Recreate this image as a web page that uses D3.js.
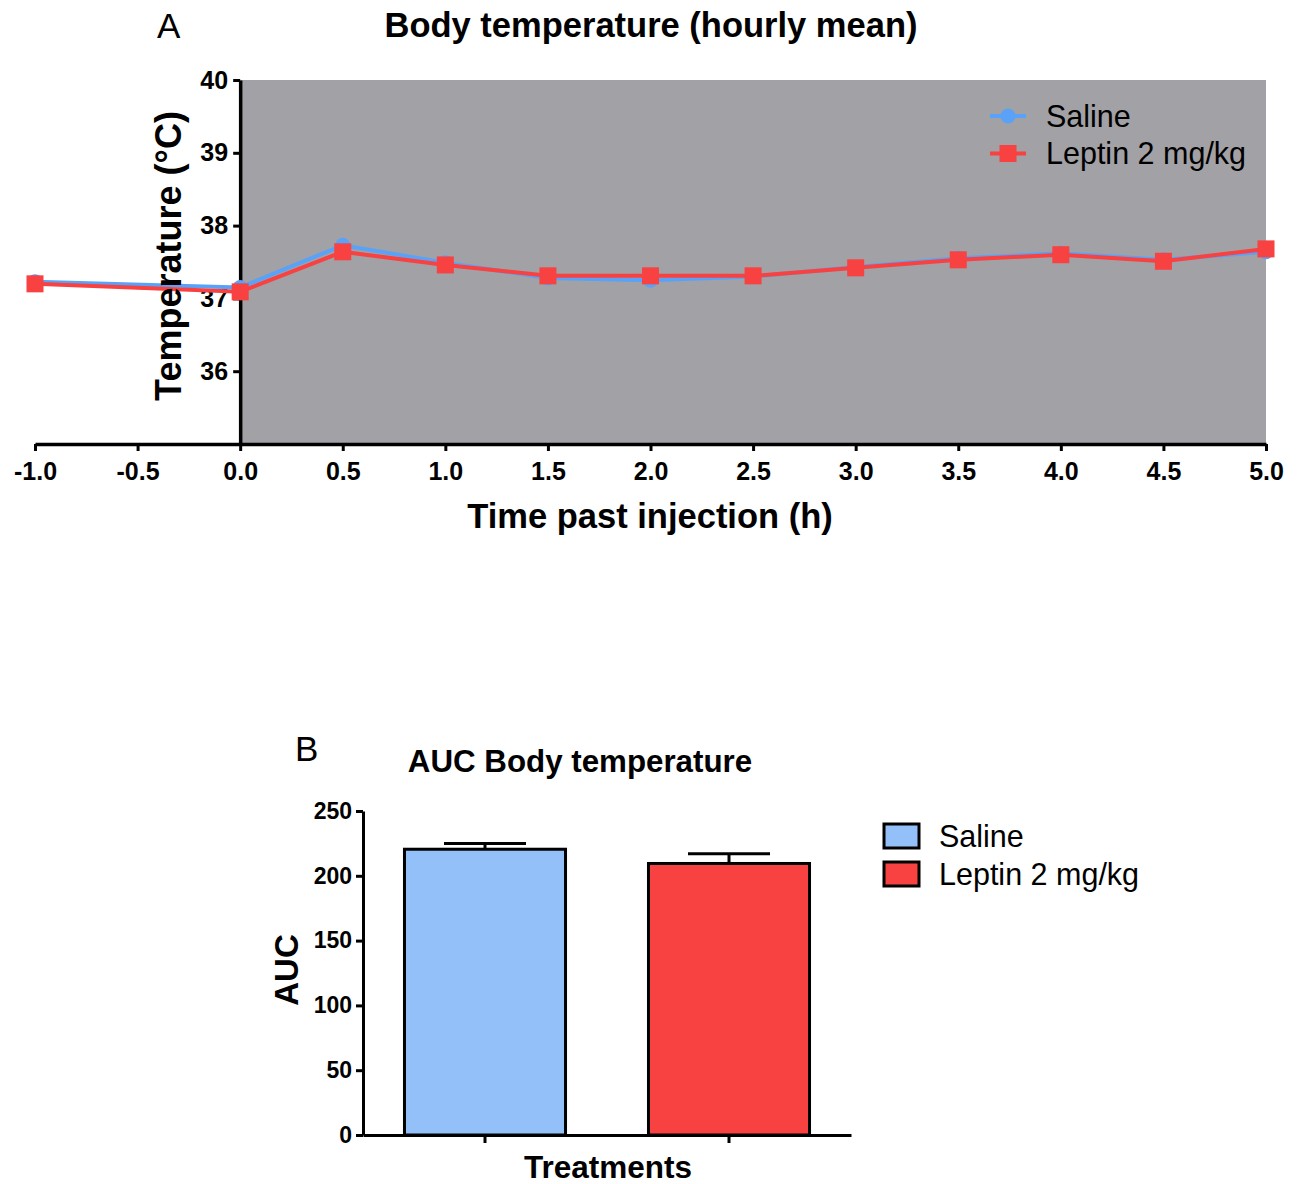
<!DOCTYPE html>
<html>
<head>
<meta charset="utf-8">
<script src="https://cdn.jsdelivr.net/npm/d3@7"></script>
<style>
  html, body { margin: 0; padding: 0; background: #ffffff; }
  svg { display: block; font-family: "Liberation Sans", Arial, sans-serif; }
</style>
</head>
<body>
<svg id="fig" width="1301" height="1184"></svg>
<script>
// ---- Panel A: hourly mean body temperature ----
const hours = [-1.0, 0.0, 0.5, 1.0, 1.5, 2.0, 2.5, 3.0, 3.5, 4.0, 4.5, 5.0];
const salineTemp = [37.23, 37.15, 37.73, 37.49, 37.28, 37.25, 37.30, 37.43, 37.55, 37.62, 37.53, 37.64];
const leptinTemp = [37.20, 37.09, 37.64, 37.46, 37.31, 37.31, 37.31, 37.42, 37.53, 37.60, 37.51, 37.68];
const xTicksA = [-1.0, -0.5, 0.0, 0.5, 1.0, 1.5, 2.0, 2.5, 3.0, 3.5, 4.0, 4.5, 5.0];
const yTicksA = [36, 37, 38, 39, 40];
const seriesNames = ["Saline", "Leptin 2 mg/kg"];

// ---- Panel B: area under the curve ----
const treatments = ["Saline", "Leptin 2 mg/kg"];
const aucMean = [220.5, 209.5];
const aucErr = [4.5, 7.5];
const yTicksB = [0, 50, 100, 150, 200, 250];

const colors = {
  salineLine: "#5aa2f8",
  salineBar: "#93c0f8",
  leptin: "#f84141",
  shade: "#a2a1a5"
};

const svg = d3.select("#fig");

function styleAxis(ax, fontSize, domainWidth) {
  ax.select(".domain").attr("stroke", "#000").attr("stroke-width", domainWidth);
  ax.selectAll(".tick line").attr("stroke", "#000").attr("stroke-width", 3);
  ax.selectAll(".tick text")
    .attr("fill", "#000").attr("font-size", fontSize).attr("font-weight", "bold")
    .attr("font-family", "'Liberation Sans', Arial, sans-serif");
}

// ================= Panel A =================
const xA = d3.scaleLinear().domain([-1, 5]).range([35, 1266]);
const yA = d3.scaleLinear().domain([35, 40]).range([444, 80]);

// shaded post-injection period
svg.append("rect")
  .attr("x", xA(0)).attr("y", yA(40))
  .attr("width", xA(5) - xA(0)).attr("height", yA(35) - yA(40))
  .attr("fill", colors.shade);

const gA = svg.append("g");

// y axis at time 0
const yAxisA = gA.append("g")
  .attr("transform", `translate(${xA(0)},0)`)
  .call(d3.axisLeft(yA).tickValues(yTicksA).tickSize(7).tickSizeOuter(0)
        .tickPadding(5).tickFormat(d3.format("d")));
// x axis at the bottom of the plot
const xAxisA = gA.append("g")
  .attr("transform", `translate(0,${yA(35)})`)
  .call(d3.axisBottom(xA).tickValues(xTicksA).tickSize(7).tickSizeOuter(0)
        .tickPadding(11).tickFormat(d => d.toFixed(1)));

styleAxis(yAxisA, 25, 3.5);
styleAxis(xAxisA, 25, 3.5);

const lineA = d3.line().x(d => xA(d[0])).y(d => yA(d[1]));
const salinePts = hours.map((h, i) => [h, salineTemp[i]]);
const leptinPts = hours.map((h, i) => [h, leptinTemp[i]]);

// saline series (circles)
svg.append("path").datum(salinePts)
  .attr("d", lineA).attr("fill", "none")
  .attr("stroke", colors.salineLine).attr("stroke-width", 4);
svg.append("g").selectAll("circle").data(salinePts).join("circle")
  .attr("cx", d => xA(d[0])).attr("cy", d => yA(d[1])).attr("r", 7.5)
  .attr("fill", colors.salineLine);

// leptin series (squares)
const sq = 17;
svg.append("path").datum(leptinPts)
  .attr("d", lineA).attr("fill", "none")
  .attr("stroke", colors.leptin).attr("stroke-width", 4);
svg.append("g").selectAll("rect").data(leptinPts).join("rect")
  .attr("x", d => xA(d[0]) - sq / 2).attr("y", d => yA(d[1]) - sq / 2)
  .attr("width", sq).attr("height", sq)
  .attr("fill", colors.leptin);

// legend A
const legA = svg.append("g");
[0, 1].forEach(i => {
  const ly = 116 + i * 37.5;
  legA.append("line").attr("x1", 990).attr("x2", 1026).attr("y1", ly).attr("y2", ly)
    .attr("stroke", i === 0 ? colors.salineLine : colors.leptin).attr("stroke-width", 4);
  if (i === 0) {
    legA.append("circle").attr("cx", 1008).attr("cy", ly).attr("r", 7.5).attr("fill", colors.salineLine);
  } else {
    legA.append("rect").attr("x", 1008 - sq / 2).attr("y", ly - sq / 2)
      .attr("width", sq).attr("height", sq).attr("fill", colors.leptin);
  }
  legA.append("text").attr("x", 1046).attr("y", ly + 10.5)
    .attr("font-size", 30.5).attr("fill", "#000").text(seriesNames[i]);
});

// titles and axis labels A
svg.append("text").attr("x", 157).attr("y", 38).attr("font-size", 35).text("A");
svg.append("text").attr("x", 651).attr("y", 37).attr("text-anchor", "middle")
  .attr("font-size", 34.5).attr("font-weight", "bold").text("Body temperature (hourly mean)");
svg.append("text").attr("x", 650).attr("y", 528).attr("text-anchor", "middle")
  .attr("font-size", 34.5).attr("font-weight", "bold").text("Time past injection (h)");
svg.append("text").attr("transform", "translate(181,256) rotate(-90)")
  .attr("text-anchor", "middle").attr("font-size", 36).attr("font-weight", "bold")
  .text("Temperature (°C)");

// ================= Panel B =================
const xB = d3.scaleBand().domain(treatments).range([363, 851])
  .paddingInner(0.34).paddingOuter(0.17);
const yB = d3.scaleLinear().domain([0, 250]).range([1135, 811]);

const yAxisB = svg.append("g")
  .attr("transform", `translate(${xB.range()[0]},0)`)
  .call(d3.axisLeft(yB).tickValues(yTicksB).tickSize(7).tickSizeOuter(0).tickPadding(4));
const xAxisB = svg.append("g")
  .attr("transform", `translate(0,${yB(0)})`)
  .call(d3.axisBottom(xB).tickSize(8).tickSizeOuter(0).tickFormat(""));

styleAxis(yAxisB, 23, 3);
styleAxis(xAxisB, 23, 3);

const barFill = [colors.salineBar, colors.leptin];
const bars = svg.append("g");
treatments.forEach((t, i) => {
  const cx = xB(t) + xB.bandwidth() / 2;
  // error bar (upper only)
  bars.append("line").attr("x1", cx).attr("x2", cx)
    .attr("y1", yB(aucMean[i])).attr("y2", yB(aucMean[i] + aucErr[i]))
    .attr("stroke", "#000").attr("stroke-width", 3);
  bars.append("line").attr("x1", cx - 41).attr("x2", cx + 41)
    .attr("y1", yB(aucMean[i] + aucErr[i])).attr("y2", yB(aucMean[i] + aucErr[i]))
    .attr("stroke", "#000").attr("stroke-width", 3);
  bars.append("rect")
    .attr("x", xB(t)).attr("y", yB(aucMean[i]))
    .attr("width", xB.bandwidth()).attr("height", yB(0) - yB(aucMean[i]))
    .attr("fill", barFill[i]).attr("stroke", "#000").attr("stroke-width", 3);
});

// legend B
const legB = svg.append("g");
treatments.forEach((t, i) => {
  const ly = 836 + i * 38;
  legB.append("rect").attr("x", 884).attr("y", ly - 12).attr("width", 35).attr("height", 24)
    .attr("fill", barFill[i]).attr("stroke", "#000").attr("stroke-width", 3);
  legB.append("text").attr("x", 939).attr("y", ly + 10.5)
    .attr("font-size", 30.5).attr("fill", "#000").text(t);
});

svg.append("text").attr("x", 295).attr("y", 761).attr("font-size", 35).text("B");
svg.append("text").attr("x", 580).attr("y", 772).attr("text-anchor", "middle")
  .attr("font-size", 31.3).attr("font-weight", "bold").text("AUC Body temperature");
svg.append("text").attr("x", 608).attr("y", 1178).attr("text-anchor", "middle")
  .attr("font-size", 31.5).attr("font-weight", "bold").text("Treatments");
svg.append("text").attr("transform", "translate(298,970) rotate(-90)")
  .attr("text-anchor", "middle").attr("font-size", 33).attr("font-weight", "bold")
  .text("AUC");
</script>
</body>
</html>
